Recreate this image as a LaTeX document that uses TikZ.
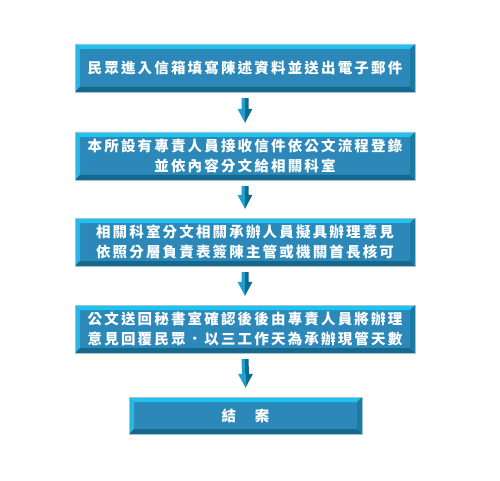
\documentclass[tikz,border=0pt]{standalone}
\usepackage{fontspec}
\usepackage{tikz}
\usetikzlibrary{calc}
\newfontfamily\cjk[LetterSpace=15]{Noto Sans CJK TC}

\definecolor{boxface}{HTML}{2B88B8}
\definecolor{bevtop}{HTML}{1FC3F0}
\definecolor{bevleft}{HTML}{2AB5E3}
\definecolor{bevbottom}{HTML}{16688C}
\definecolor{bevright}{HTML}{1B7BA3}
\definecolor{arrlight}{HTML}{1E9FCF}
\definecolor{arrdark}{HTML}{0F6A8C}

\tikzset{
  flowbox/.style={minimum width=340pt, minimum height=48pt, inner sep=0pt,
    fill=boxface, draw=boxface!60!gray!50, line width=0.4pt,
    text=white, font=\cjk\bfseries\fontsize{14.5pt}{20pt}\selectfont, align=center,
    path picture={
      \coordinate (nw) at (path picture bounding box.north west);
      \coordinate (se) at (path picture bounding box.south east);
      \coordinate (ne) at (path picture bounding box.north east);
      \coordinate (sw) at (path picture bounding box.south west);
      \fill[bevtop] (nw) -- (ne) -- ($(ne)+(-5pt,-5pt)$) -- ($(nw)+(5pt,-5pt)$) -- cycle;
      \fill[bevleft] (nw) -- ($(nw)+(5pt,-5pt)$) -- ($(sw)+(5pt,5pt)$) -- (sw) -- cycle;
      \fill[bevbottom] (sw) -- (se) -- ($(se)+(-5pt,5pt)$) -- ($(sw)+(5pt,5pt)$) -- cycle;
      \fill[bevright] (ne) -- (se) -- ($(se)+(-5pt,5pt)$) -- ($(ne)+(-5pt,-5pt)$) -- cycle;
    }},
  endbox/.style={flowbox, minimum width=233pt, minimum height=37pt}
}

% two-tone block arrow from one box to the next
\newcommand{\flowarrow}[2]{%
  \coordinate (t) at ($(#1.south)+(0,6)$);
  \coordinate (p) at ($(#2.north)+(0,-9)$);
  \fill[arrlight] ($(t)+(-3.5,0)$) -- (t) -- (p) -- ($(p)+(-7.5,-14)$) -- ($(p)+(-3.5,-14)$) -- cycle;
  \fill[arrdark] ($(t)+(3.5,0)$) -- (t) -- (p) -- ($(p)+(7.5,-14)$) -- ($(p)+(3.5,-14)$) -- cycle;
}

\begin{document}
\begin{tikzpicture}[x=1pt,y=-1pt]
    \useasboundingbox (0,0) rectangle (500,481);
    \node[flowbox] (mail) at (245,68) {民眾進入信箱填寫陳述資料並送出電子郵件};
    \node[flowbox] (register) at (245,156) {本所設有專責人員接收信件依公文流程登錄\\並依內容分文給相關科室};
    \node[flowbox] (handle) at (245,242) {相關科室分文相關承辦人員擬具辦理意見\\依照分層負責表簽陳主管或機關首長核可};
    \node[flowbox] (reply) at (245,329) {公文送回秘書室確認後後由專責人員將辦理\\意見回覆民眾．以三工作天為承辦現管天數};
    \node[endbox] (close) at (245.5,415.5) {結　案};
    \flowarrow{mail}{register}
    \flowarrow{register}{handle}
    \flowarrow{handle}{reply}
    \flowarrow{reply}{close}
\end{tikzpicture}
\end{document}
